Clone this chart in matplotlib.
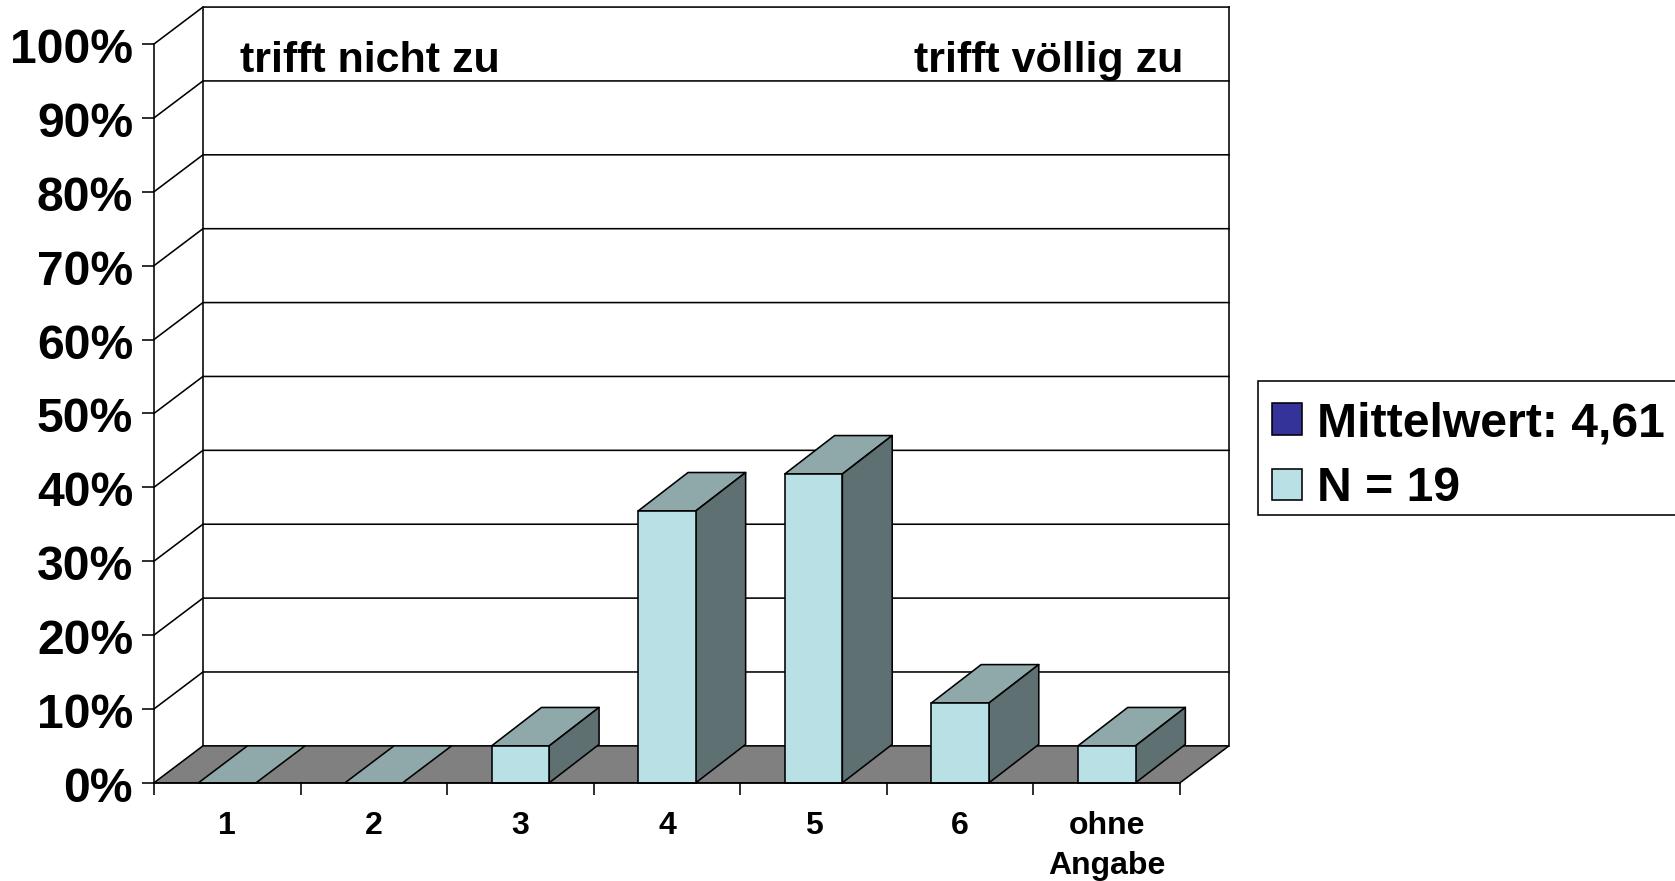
import matplotlib
matplotlib.use("Agg")
import matplotlib.pyplot as plt
from matplotlib.patches import Patch, Rectangle
from matplotlib.ticker import FuncFormatter
from matplotlib.transforms import ScaledTranslation

plt.rcParams['font.family'] = ['Liberation Sans', 'DejaVu Sans']
plt.rcParams['font.weight'] = 'bold'

categories = ['1', '2', '3', '4', '5', '6', 'ohne\nAngabe']
values = [0, 0, 5.0, 36.8, 41.8, 10.8, 5.0]
y_ticks = list(range(0, 101, 10))
legend_labels = ['Mittelwert: 4,61', 'N = 19']
note_left = 'trifft nicht zu'
note_right = 'trifft völlig zu'

W, H = 1675, 881
FRONT = '#B9E0E4'
TOP = '#8FA8AA'
SIDE = '#5F7072'
FLOOR = '#808080'
DARK = '#333399'
LW = 1.15
DX, DY = 0.334, 5.0
BDX, BDY = 0.34, 5.2
BW = 0.393

fig = plt.figure(figsize=(W / 100, H / 100), dpi=100, facecolor='white')
ax = fig.add_axes([154 / W, 1 - 782.8 / H, (1180 - 154) / W, (782.8 - 44) / H])
ax.set_xlim(0, len(categories))
ax.set_ylim(0, 100)
ax.patch.set_visible(False)
for s in ('top', 'right'):
    ax.spines[s].set_visible(False)
for s in ('left', 'bottom'):
    ax.spines[s].set_linewidth(LW)

n = len(categories)
# walls and gridlines
for v in y_ticks[1:]:
    ax.plot([0, DX, n + DX], [v, v + DY, v + DY], color='black', lw=LW, clip_on=False, zorder=1)
ax.plot([DX, DX], [DY, 100 + DY], color='black', lw=LW, clip_on=False, zorder=1)
ax.plot([n + DX, n + DX], [DY, 100 + DY], color='black', lw=LW, clip_on=False, zorder=1)
# floor
ax.fill([0, n, n + DX, DX], [0, 0, DY, DY], facecolor=FLOOR, edgecolor='black', lw=LW,
        clip_on=False, zorder=2)

# bars
xs = [i + 0.5 for i in range(n)]
for x, v in zip(xs, values):
    l, r = x - BW / 2, x + BW / 2
    if v > 0:
        ax.fill([l, r, r + BDX, l + BDX], [v, v, v + BDY, v + BDY], facecolor=TOP, edgecolor='black',
                lw=LW, clip_on=False, zorder=3, joinstyle='round')
        ax.fill([r, r + BDX, r + BDX, r], [0, BDY, v + BDY, v], facecolor=SIDE, edgecolor='black',
                lw=LW, clip_on=False, zorder=3, joinstyle='round')
    else:
        ax.fill([l, r, r + DX, l + DX], [v, v, v + DY, v + DY], facecolor=TOP, edgecolor='black',
                lw=LW, clip_on=False, zorder=3, joinstyle='round')
ax.bar(xs, values, width=BW, color=FRONT, edgecolor='black', linewidth=LW, zorder=4, clip_on=False)

# axes
ax.set_yticks(y_ticks)
ax.yaxis.set_major_formatter(FuncFormatter(lambda v, _: f'{v:.0f}%'))
ax.tick_params(axis='y', length=8.6, width=LW, pad=6.5, labelsize=34.6)
shift = ScaledTranslation(0, -1.5 / 100, fig.dpi_scale_trans)
for tick in ax.yaxis.get_major_ticks():
    tick.label1.set_transform(tick.label1.get_transform() + shift)
ax.set_xticks(list(range(n + 1)))
ax.set_xticklabels([])
ax.tick_params(axis='x', which='major', length=8.6, width=LW)
ax.set_xticks(xs, minor=True)
ax.set_xticklabels(categories, minor=True, fontsize=23, linespacing=1.44)
ax.tick_params(axis='x', which='minor', length=0, pad=20)
for sp in ax.spines.values():
    sp.set_zorder(5)

# notes
fig.text(240 / W, 1 - 72 / H, note_left, fontsize=31, ha='left', va='baseline')
fig.text(1183 / W, 1 - 72 / H, note_right, fontsize=31, ha='right', va='baseline')

# legend frame and entries
fig.add_artist(Rectangle((1258 / W, 1 - 515 / H), (1680 - 1258) / W, 134 / H,
                         transform=fig.transFigure, facecolor='white', edgecolor='black', lw=LW))
handles = [Patch(facecolor=DARK, edgecolor='black', lw=LW),
           Patch(facecolor=FRONT, edgecolor='black', lw=LW)]
leg = fig.legend(handles, legend_labels, loc='upper left',
                 bbox_to_anchor=(1272 / W, 1 - 401 / H),
                 borderaxespad=0, fontsize=34.7, frameon=False, borderpad=0, labelspacing=0.42,
                 handlelength=0.63, handleheight=0.63, handletextpad=0.3)

fig.savefig('out.png', dpi=100, facecolor='white')
